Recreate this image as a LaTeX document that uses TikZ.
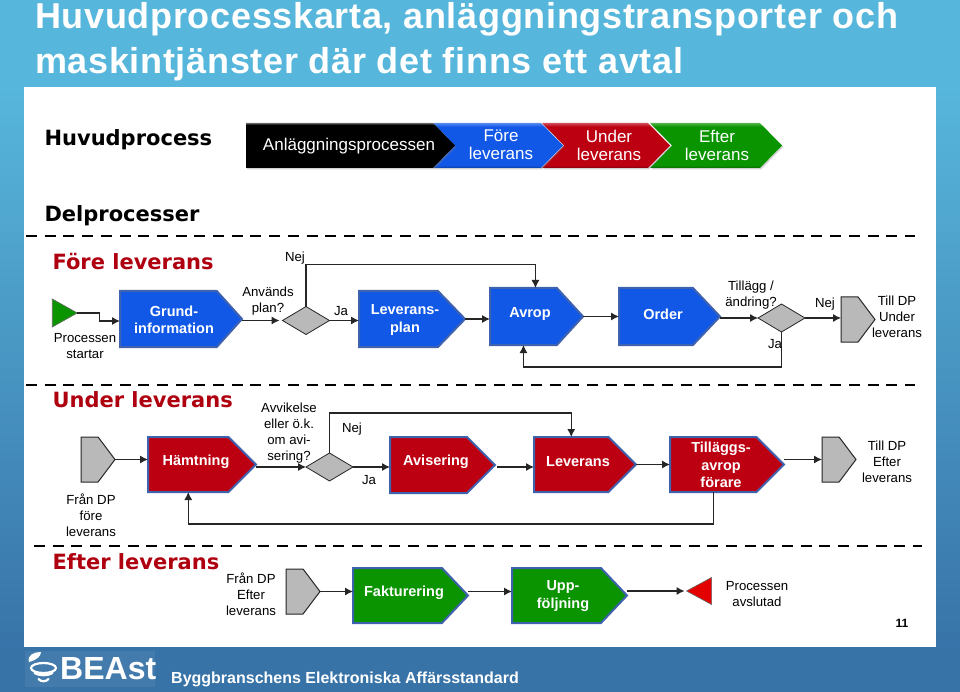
\documentclass[tikz,border=0pt]{standalone}
\usepackage{fontspec}
\setmainfont{Liberation Sans}
\newfontfamily\headfont{DejaVu Sans}
\newfontfamily\titlefont[LetterSpace=1.9]{Liberation Sans}
\usetikzlibrary{arrows.meta,shapes.geometric,shapes.symbols,shadows}
\definecolor{bandtop}{HTML}{57B6DB}
\definecolor{bandlow}{HTML}{3873A8}
\definecolor{rimblue}{HTML}{3F62AE}
\definecolor{beastblue}{HTML}{1258E6}
\definecolor{beastred}{HTML}{BC0012}
\definecolor{beastgreen}{HTML}{0A9400}
\definecolor{headred}{HTML}{AF0010}
\definecolor{portgrey}{HTML}{B9B9B9}
\pgfdeclareverticalshading{bevelblack}{100bp}{color(0bp)=(black); color(73bp)=(black); color(75bp)=(black!60); color(100bp)=(black!60)}
\pgfdeclareverticalshading{bevelblue}{100bp}{color(0bp)=(beastblue!70!black); color(25bp)=(beastblue!70!black); color(28bp)=(beastblue); color(71bp)=(beastblue); color(75bp)=(beastblue!70!white); color(100bp)=(beastblue!70!white)}
\pgfdeclareverticalshading{bevelred}{100bp}{color(0bp)=(beastred!70!black); color(25bp)=(beastred!70!black); color(28bp)=(beastred); color(71bp)=(beastred); color(75bp)=(beastred!70!white); color(100bp)=(beastred!70!white)}
\pgfdeclareverticalshading{bevelgreen}{100bp}{color(0bp)=(beastgreen!70!black); color(25bp)=(beastgreen!70!black); color(28bp)=(beastgreen); color(71bp)=(beastgreen); color(75bp)=(beastgreen!70!white); color(100bp)=(beastgreen!70!white)}
\tikzset{
  flow/.style={line width=1.1pt,draw=black!85,-{Latex[length=8pt,width=8pt]}},
  cutline/.style={line width=2.5pt,dash pattern=on 11pt off 7.7pt},
  procbox/.style={signal,signal to=east,anchor=west,inner sep=0pt,outer sep=0pt,draw=rimblue,line width=2pt},
  bluebox/.style={procbox,fill=beastblue,minimum height=56pt},
  redbox/.style={procbox,fill=beastred,minimum height=55pt,signal pointer angle=90},
  greenbox/.style={procbox,fill=beastgreen,minimum height=55pt,signal pointer angle=93},
  portbox/.style={signal,signal to=east,anchor=west,inner sep=0pt,outer sep=0pt,draw=black!85,line width=1pt,
    fill=portgrey,minimum width=34pt,minimum height=45pt,signal pointer angle=106},
  query/.style={diamond,shape aspect=1.67,inner sep=0pt,outer sep=0pt,draw=black!85,line width=.8pt,
    fill=portgrey,minimum width=47pt,minimum height=28pt},
  boxtext/.style={text=white,align=center,font=\fontsize{14.5}{17.5}\selectfont\bfseries},
  note/.style={align=center,font=\fontsize{13.2}{16}\selectfont},
  chevron/.style={signal,signal from=west,signal to=east,inner sep=0pt,outer sep=0pt,minimum height=45pt,
    signal pointer angle=91,drop shadow={shadow xshift=1pt,shadow yshift=-1.5pt,opacity=.35}},
  chevtext/.style={text=white,align=center,font=\fontsize{17}{18}\selectfont},
  subhead/.style={anchor=west,font=\headfont\fontsize{21}{25}\selectfont\bfseries},
  redhead/.style={subhead,text=headred},
}
\begin{document}
\begin{tikzpicture}[x=1pt,y=-1pt]
\useasboundingbox (0,0) rectangle (960,692);
% bakgrund
\shade[top color=bandtop,bottom color=bandlow] (0,87) rectangle (960,650);
\fill[bandtop] (0,0) rectangle (960,88);
\fill[bandlow] (0,647) rectangle (960,692);
\fill[white] (24,87) rectangle (936,647);
\node[anchor=west,text=white,align=left,inner sep=0pt,font=\titlefont\fontsize{36}{45}\selectfont\bfseries] (title) at (35,42)
  {Huvudprocesskarta, anläggningstransporter och\\maskintjänster där det finns ett avtal};
% huvudprocess
\node[subhead] (huvud) at (41,140) {Huvudprocess};
\node[chevron,shading=bevelgreen,minimum width=132pt] (efterh) at (716,145.5) {};
\node[chevron,shading=bevelred,minimum width=128pt] (underh) at (606,145.5) {};
\node[chevron,shading=bevelblue,minimum width=130pt] (foreh) at (498,145.5) {};
\node[chevron,signal from=nowhere,anchor=west,shading=bevelblack,minimum width=209pt] (anlagg) at (246,145.5) {};
\node[chevtext] (anlaggt) at (349,146) {Anläggningsprocessen};
\node[chevtext] (foret) at (501,145) {Före\\leverans};
\node[chevtext] (undert) at (609,145) {Under\\leverans};
\node[chevtext] (eftert) at (717,145) {Efter\\leverans};
% delprocesser
\node[subhead] (delp) at (41,216) {Delprocesser};
\draw[cutline] (26,236) -- (915,236);
\draw[cutline] (26,385) -- (915,385);
\draw[cutline] (34,546) -- (922,546);
\node[redhead] (forehead) at (49,262) {Före leverans};
\node[redhead] (underhead) at (49,400) {Under leverans};
\node[redhead] (efterhead) at (49,562) {Efter leverans};
% före leverans
\node[isosceles triangle,isosceles triangle stretches,inner sep=0pt,outer sep=0pt,draw=black!60,line width=.6pt,
  fill=beastgreen,minimum width=28pt,minimum height=25pt] (start) at (60.5,313) {};
\node[bluebox,minimum width=122pt,signal pointer angle=96] (grund) at (120,319) {};
\node[bluebox,minimum width=106pt,signal pointer angle=92] (levplan) at (359,319) {};
\node[bluebox,minimum width=93pt,signal pointer angle=95,minimum height=57pt] (avrop) at (490,316.5) {};
\node[bluebox,minimum width=101pt,signal pointer angle=93,minimum height=57pt] (order) at (619,316.5) {};
\node[query] (plan) at (306,320.5) {};
\node[query] (andr) at (781.5,318) {};
\node[portbox] (tillunder) at (841,319.5) {};
\node[boxtext] (grundt) at (174,320) {Grund-\\information};
\node[boxtext] (levplant) at (405,320) {Leverans-\\plan};
\node[boxtext] (avropt) at (530,314) {Avrop};
\node[boxtext] (ordert) at (663,314) {Order};
\draw[flow] (start.east) -- ++(22,0) |- ([yshift=-2pt]grund.west);
\draw[flow] (grund.east |- plan.west) -- ([xshift=-3pt]plan.west);
\draw[flow] (plan.east) -- (plan.east -| levplan.west);
\draw[flow] (plan.north) -- ++(0,-42) -| ([xshift=12pt]avrop.north);
\draw[flow] (levplan.east) -- (levplan.east -| avrop.west);
\draw[flow] (avrop.east) -- (avrop.east -| order.west);
\draw[flow] (andr.west -| order.east) -- (andr.west);
\draw[flow] (andr.east) -- (andr.east -| tillunder.west);
\draw[flow] (andr.south) -- ++(0,35) -| (avrop.south);
\node[note] (nej1) at (295,258) {Nej};
\node[note] (anv) at (268,301) {Används\\plan?};
\node[note] (ja1) at (341,311) {Ja};
\node[note] (startt) at (85,346) {Processen\\startar};
\node[note] (tilg) at (751,295) {Tillägg /\\ändring?};
\node[note] (nej2) at (825,304) {Nej};
\node[note] (ja2) at (775,344) {Ja};
\node[note] (tillundert) at (897,317) {Till DP\\Under\\leverans};
% under leverans
\node[portbox] (franfore) at (81,459.5) {};
\node[redbox,minimum width=108pt] (hamt) at (148,464.5) {};
\node[redbox,minimum width=105pt,minimum height=56pt] (avis) at (390,465) {};
\node[redbox,minimum width=102pt] (lev) at (534,464.5) {};
\node[redbox,minimum width=114pt] (tillagg) at (670,464.5) {};
\node[portbox] (tillefter) at (822,459.5) {};
\node[query] (avvik) at (329.5,467) {};
\node[boxtext] (hamtt) at (196,462) {Hämtning};
\node[boxtext] (avist) at (436,462) {Avisering};
\node[boxtext] (levt) at (578,462) {Leverans};
\node[boxtext] (tillaggt) at (721,465) {Tilläggs-\\avrop\\förare};
\draw[flow] (franfore.east) -- (franfore.east -| hamt.west);
\draw[flow] (hamt.east |- avvik.west) -- (avvik.west);
\draw[flow] (avvik.east) -- (avvik.east -| avis.west);
\draw[flow] (avvik.north) -- ++(0,-40) -| (lev.north);
\draw[flow] ([xshift=2pt]avis.east |- avvik.east) -- (avvik.east -| lev.west);
\draw[flow] (lev.east) -- (lev.east -| tillagg.west);
\draw[flow] (tillagg.east |- tillefter.west) -- (tillefter.west);
\draw[flow] (tillagg.south) -- ++(0,32) -| (hamt.south);
\node[note] (avvikt) at (289,433) {Avvikelse\\eller ö.k.\\om avi-\\sering?};
\node[note] (nej3) at (352,429) {Nej};
\node[note] (ja3) at (369,480) {Ja};
\node[note] (franforet) at (91,515) {Från DP\\före\\leverans};
\node[note] (tilleftert) at (887,462) {Till DP\\Efter\\leverans};
% efter leverans
\node[portbox] (franefter) at (286,591.5) {};
\node[greenbox,minimum width=115pt] (fakt) at (353,595.5) {};
\node[greenbox,minimum width=115pt] (uppf) at (512,595.5) {};
\node[isosceles triangle,isosceles triangle stretches,shape border rotate=180,inner sep=0pt,outer sep=0pt,
  draw=black!60,line width=.6pt,fill=red!90!black,minimum width=27pt,minimum height=25pt] (slut) at (703.5,591) {};
\node[boxtext] (faktt) at (404,593) {Fakturering};
\node[boxtext] (uppft) at (563,596) {Upp-\\följning};
\draw[flow] (franefter.east) -- (franefter.east -| fakt.west);
\draw[flow] (fakt.east |- franefter.east) -- (franefter.east -| uppf.west);
\draw[flow] (uppf.east |- slut.west) -- ([xshift=-2pt]slut.west);
\node[note] (franeftert) at (251,594) {Från DP\\Efter\\leverans};
\node[note] (slutt) at (757,594) {Processen\\avslutad};
\node[font=\fontsize{12}{14}\selectfont\bfseries] (sidnr) at (902,623) {11};
% sidfot
\fill[white,opacity=.06] (25,651) rectangle (155,687);
\node[anchor=west,text=white,inner sep=0pt,font=\fontsize{32}{34}\selectfont\bfseries] (beast) at (60,669) {BEAst};
\draw[white,line width=2.2pt] (43.5,668) ellipse (12.5 and 5);
\foreach \r/\w in {675/9,681/5}
  \draw[white,line width=2.2pt,line cap=round] (43.5-\w,\r-2) .. controls (43.5-\w/2,\r+1) and (43.5+\w/2,\r+1) .. (43.5+\w,\r-2);
\fill[white] (29,662) .. controls (27,655) and (34,652) .. (41,652) .. controls (41,656) and (37,660) .. (29,662);
\node[anchor=west,text=white,inner sep=0pt,font=\fontsize{16}{18}\selectfont\bfseries] (foot) at (171,679) {Byggbranschens Elektroniska Affärsstandard};
\end{tikzpicture}
\end{document}
